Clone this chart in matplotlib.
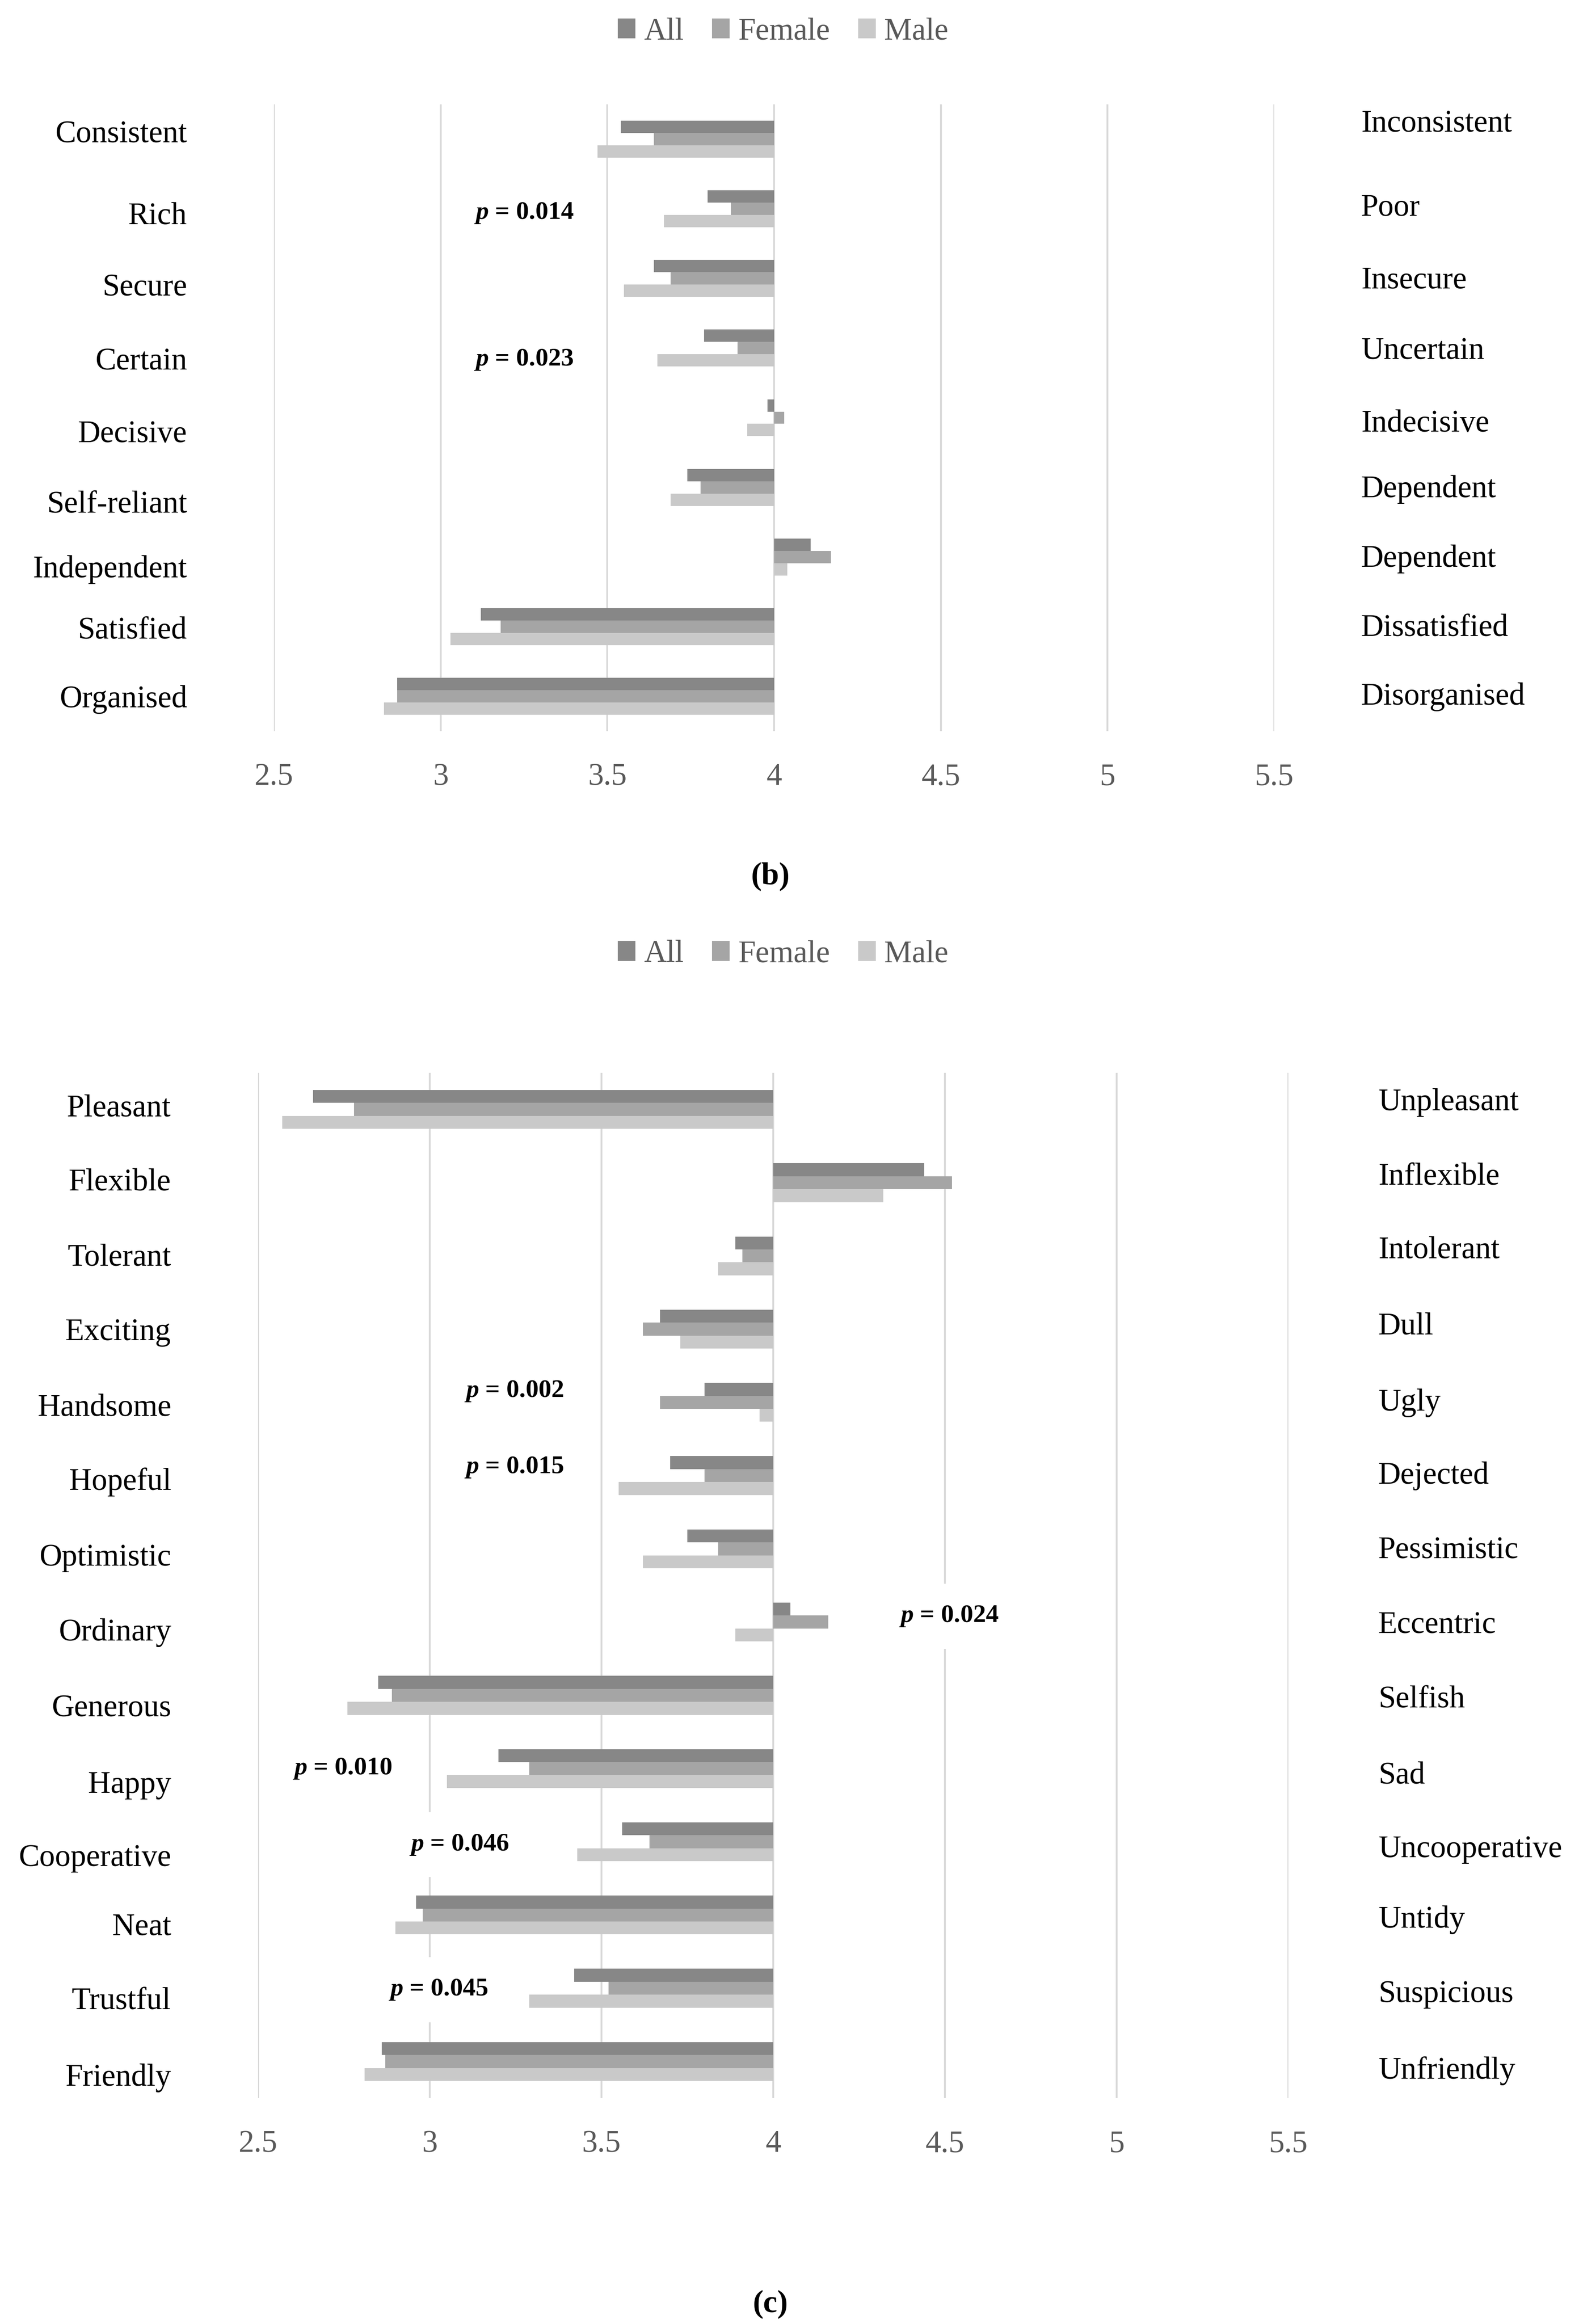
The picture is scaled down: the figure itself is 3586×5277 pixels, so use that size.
import matplotlib.pyplot as plt
import numpy as np

plt.rcParams['font.family'] = ['Liberation Serif', 'DejaVu Serif']
plt.rcParams['mathtext.fontset'] = 'custom'
plt.rcParams['mathtext.it'] = 'Liberation Serif:italic:bold'
plt.rcParams['mathtext.rm'] = 'Liberation Serif:bold'

series = ['All', 'Female', 'Male']
colors = ['#878787', '#a5a5a5', '#c9c9c9']
ticks = [2.5, 3, 3.5, 4, 4.5, 5, 5.5]
tick_labels = ['2.5', '3', '3.5', '4', '4.5', '5', '5.5']

# panel (b)
b_left = ['Consistent', 'Rich', 'Secure', 'Certain', 'Decisive', 'Self-reliant',
          'Independent', 'Satisfied', 'Organised']
b_right = ['Inconsistent', 'Poor', 'Insecure', 'Uncertain', 'Indecisive', 'Dependent',
           'Dependent', 'Dissatisfied', 'Disorganised']
b_all = [3.54, 3.80, 3.64, 3.79, 3.98, 3.74, 4.11, 3.12, 2.87]
b_female = [3.64, 3.87, 3.69, 3.89, 4.03, 3.78, 4.17, 3.18, 2.87]
b_male = [3.47, 3.67, 3.55, 3.65, 3.92, 3.69, 4.04, 3.03, 2.83]
b_pvals = ['0.014', '0.023']
b_prows = ['Rich', 'Certain']

# panel (c)
c_left = ['Pleasant', 'Flexible', 'Tolerant', 'Exciting', 'Handsome', 'Hopeful',
          'Optimistic', 'Ordinary', 'Generous', 'Happy', 'Cooperative', 'Neat',
          'Trustful', 'Friendly']
c_right = ['Unpleasant', 'Inflexible', 'Intolerant', 'Dull', 'Ugly', 'Dejected',
           'Pessimistic', 'Eccentric', 'Selfish', 'Sad', 'Uncooperative', 'Untidy',
           'Suspicious', 'Unfriendly']
c_all = [2.66, 4.44, 3.89, 3.67, 3.80, 3.70, 3.75, 4.05, 2.85, 3.20, 3.56, 2.96, 3.42, 2.86]
c_female = [2.78, 4.52, 3.91, 3.62, 3.67, 3.80, 3.84, 4.16, 2.89, 3.29, 3.64, 2.98, 3.52, 2.87]
c_male = [2.57, 4.32, 3.84, 3.73, 3.96, 3.55, 3.62, 3.89, 2.76, 3.05, 3.43, 2.90, 3.29, 2.81]
c_pvals = ['0.002', '0.015', '0.024', '0.010', '0.046', '0.045']
c_prows = ['Handsome', 'Hopeful', 'Ordinary', 'Happy', 'Cooperative', 'Trustful']

# layout: p-value boxes (x in data units, y shift in rows), label nudges in rows
b_pos = [(3.10, 0.06), (3.10, 0.17)]
c_pos = [(3.10, -0.15), (3.10, -0.11), (4.365, -0.08), (2.60, 0.0), (2.94, 0.04), (2.88, 0.02)]
b_lnudge = [-0.11, 0.06, 0.09, 0.15, 0.19, 0.21, 0.13, 0.02, 0.0]
b_rnudge = [-0.26, -0.06, -0.02, 0.0, 0.04, -0.02, -0.02, -0.02, -0.04]
c_lnudge = [-0.06, -0.04, -0.02, 0.0, 0.04, 0.04, 0.08, 0.10, 0.14, 0.18, 0.18, 0.12, 0.14, 0.18]
c_rnudge = [-0.14, -0.12, -0.12, -0.08, -0.04, -0.04, -0.02, 0.0, 0.02, 0.06, 0.06, 0.02, 0.04, 0.08]

W, H = 3586, 5277
fig = plt.figure(figsize=(W / 100, H / 100), dpi=100)


def panel(rect, left, right, vals, pvals, prows, ppos, lnudge, rnudge, rpad,
          legend_y, caption, cap_y):
    ax = fig.add_axes(rect)
    n = len(left)
    y = np.arange(n)
    h = 0.177
    bars = []
    for j, v in enumerate(vals):
        v = np.array(v)
        b = ax.barh(y + (j - 1) * h, v - 4, left=4, height=h, color=colors[j],
                    label=series[j], zorder=2)
        bars.append(b)
    ax.set_xlim(2.5, 5.5)
    ax.set_ylim(n - 0.5, -0.5)
    ax.set_xticks(ticks)
    ax.set_xticklabels(tick_labels)
    ax.set_yticks(y + np.array(lnudge))
    ax.set_yticklabels(left)
    ax.grid(axis='x', color='#d9d9d9', linewidth=3, zorder=0)
    ax.set_axisbelow(True)
    for s in ax.spines.values():
        s.set_visible(False)
    ax.tick_params(axis='x', length=0, pad=52, labelsize=51, labelcolor='#595959')
    ax.tick_params(axis='y', length=0, pad=142, labelsize=51, labelcolor='black')

    ax2 = ax.twinx()
    ax2.set_ylim(ax.get_ylim())
    ax2.set_yticks(y + np.array(rnudge))
    ax2.set_yticklabels(right)
    ax2.tick_params(axis='y', length=0, pad=rpad, labelsize=51, labelcolor='black')
    for s in ax2.spines.values():
        s.set_visible(False)

    for p, row, (px, dy) in zip(pvals, prows, ppos):
        i = left.index(row)
        ax.text(px, i + dy, '$p$ = ' + p, fontsize=42, fontweight='bold', ha='left',
                va='center', zorder=3,
                bbox=dict(boxstyle='square,pad=0.8', facecolor='white', edgecolor='none'))

    fig.legend(handles=bars, labels=series, loc='center', bbox_to_anchor=(0.496, legend_y),
               ncol=3, frameon=False, fontsize=51, labelcolor='#595959',
               handlelength=0.56, handleheight=0.58, handletextpad=0.28, columnspacing=0.9)
    fig.text(0.488, cap_y, caption, fontsize=52, fontweight='bold', ha='center', va='center')


panel([622 / W, 1 - 1660 / H, 2272 / W, 1423 / H], b_left, b_right,
      [b_all, b_female, b_male], b_pvals, b_prows, b_pos, b_lnudge, b_rnudge, 142,
      1 - 72 / H, '(b)', 1 - 1990 / H)
panel([586 / W, 1 - 4764 / H, 2340 / W, 2328 / H], c_left, c_right,
      [c_all, c_female, c_male], c_pvals, c_prows, c_pos, c_lnudge, c_rnudge, 147,
      1 - 2167 / H, '(c)', 1 - 5232 / H)

fig.savefig('out.png', dpi=100, facecolor='white')
